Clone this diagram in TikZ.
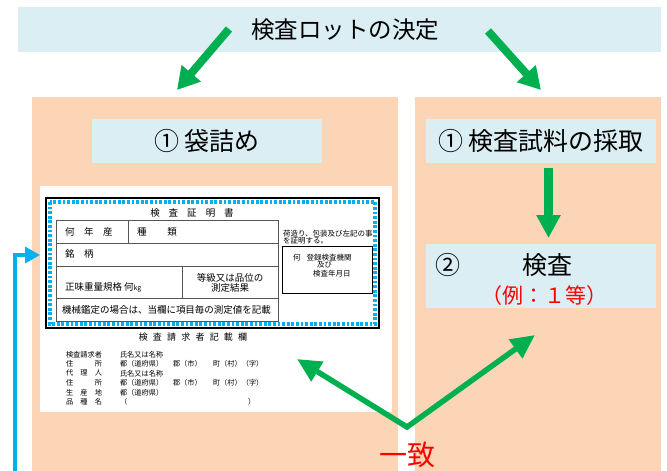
\documentclass[tikz,border=0pt]{standalone}
\usepackage{fontspec}
\setmainfont{Noto Sans CJK JP}
\usetikzlibrary{arrows.meta,calc}
\definecolor{lblue}{HTML}{DAEEF3}
\definecolor{porange}{HTML}{FBD5B5}
\definecolor{agreen}{HTML}{00B050}
\definecolor{cblue}{HTML}{00B0F0}
\definecolor{ared}{HTML}{FF0000}
\definecolor{tgray}{HTML}{555555}
\newcommand\fs[1]{\fontsize{#1}{#1}\selectfont}
\begin{document}
\begin{tikzpicture}[x=1pt,y=-1pt,
  rect/.style={inner sep=0pt, outer sep=0pt, anchor=north west},
  lbox/.style={rect, fill=lblue},
  panel/.style={rect, fill=porange},
  txt/.style={inner sep=0pt, outer sep=0pt},
  bigtxt/.style={txt, font=\fs{25}},
  smalltxt/.style={txt, font=\fs{9.5}},
  tinytxt/.style={txt, font=\fs{7.5}},
  listtxt/.style={txt, font=\fs{7.2}, anchor=west},
  tline/.style={draw=tgray, line width=0.9pt},
  toparrow/.style={draw=agreen, line width=8pt, -{Triangle[width=24pt,length=22pt]}},
  downarrow/.style={draw=agreen, line width=9pt, -{Triangle[width=23pt,length=23pt]}},
  botarrow/.style={draw=agreen, line width=5.5pt, line join=miter,
     {Triangle[width=22pt,length=24pt]}-{Triangle[width=22pt,length=24pt]}},
  bluearrow/.style={draw=cblue, line width=3.3pt, line join=miter, -{Triangle[width=16pt,length=15pt]}}
]
\useasboundingbox (0,0) rectangle (667,471);
\fill[white] (0,0) rectangle (667,471);

% banner
\node[lbox, minimum width=643pt, minimum height=45pt] (banner) at (18,7) {};
\node[txt, font=\fs{23.5}] (title) at (345,30) {検査ロットの決定};

% panels
\node[panel, minimum width=366pt, minimum height=374pt] (lpanel) at (32,97) {};
\node[panel, minimum width=246pt, minimum height=374pt] (rpanel) at (415,97) {};

% step boxes
\node[lbox, minimum width=230pt, minimum height=44pt, font=\fs{25}] (bag) at (92,119) {① 袋詰め};
\node[lbox, minimum width=230pt, minimum height=44pt, font=\fs{25}] (s1) at (426,119) {① 検査試料の採取};
\node[lbox, minimum width=230pt, minimum height=64pt] (s2) at (426,244) {};
\node[bigtxt] (s2num) at (448,265) {②};
\node[bigtxt] (s2txt) at (547,265) {検査};
\node[txt, font=\fs{21}, text=ared] (s2ex) at (544,296) {（例：１等）};

% document
\node[rect, fill=white, minimum width=352pt, minimum height=226pt] (doc) at (40,186) {};
\node[rect, draw=black, line width=1.5pt, minimum width=333pt, minimum height=130pt] (cert) at (46,198) {};
\draw[cblue, line width=3.2pt, dash pattern=on 2.8pt off 1.8pt] (50,202) rectangle (375,324);

% table
\draw[tline] (56,220.7) rectangle (278,321.7);
\draw[tline] (56,243.3) -- (278,243.3);
\draw[tline] (56,266) -- (278,266);
\draw[tline] (56,298.3) -- (278,298.3);
\draw[tline] (128,220.7) -- (128,243.3);
\draw[tline] (182,266) -- (182,298.3);
\node[rect, draw=black, line width=1.3pt, minimum width=89.6pt, minimum height=46.6pt] (stamp) at (282.7,246.7) {};

\node[txt, font=\fs{9.5}] (ctitle) at (192,213.3) {検\hspace{9pt}査\hspace{9pt}証\hspace{9pt}明\hspace{9pt}書};
\node[smalltxt, anchor=west] (c1) at (65,231.7) {何　年　産};
\node[smalltxt, anchor=west] (c2) at (137,231.7) {種\hspace{21pt}類};
\node[smalltxt, anchor=west] (c3) at (65,254) {銘　柄};
\node[smalltxt, anchor=west] (c4) at (65,287.3) {正味重量規格 何{\fs{7}kg}};
\node[smalltxt] (c5a) at (230,278.3) {等級又は品位の};
\node[smalltxt] (c5b) at (230,288.3) {測定結果};
\node[smalltxt, anchor=west] (c6) at (62,310) {機械鑑定の場合は、当欄に項目毎の測定値を記載};
\node[tinytxt, anchor=west] (r1) at (283,233.3) {荷造り、包装及び左記の事};
\node[tinytxt, anchor=west] (r2) at (283,240.5) {を証明する。};
\node[tinytxt, anchor=west] (b1) at (293,257.3) {何\hspace{6pt}登録検査機関};
\node[tinytxt, anchor=west] (b2) at (317,265) {及び};
\node[tinytxt, anchor=west] (b3) at (313,273.3) {検査年月日};

% request section
\node[txt, font=\fs{9}] (rtitle) at (193,337) {検\hspace{5.2pt}査\hspace{5.2pt}請\hspace{5.2pt}求\hspace{5.2pt}者\hspace{5.2pt}記\hspace{5.2pt}載\hspace{5.2pt}欄};
\node[listtxt] (l1) at (66,355) {検査請求者};
\node[listtxt] (l2) at (66,364) {住　　　所};
\node[listtxt] (l3) at (66,373.3) {代　理　人};
\node[listtxt] (l4) at (66,382.7) {住　　　所};
\node[listtxt] (l5) at (66,392.3) {生　産　地};
\node[listtxt] (l6) at (66,401.7) {品　種　名};
\node[listtxt] (m1) at (120,355) {氏名又は名称};
\node[listtxt] (m2) at (120,364) {都（道府県）};
\node[listtxt] (m2b) at (173,364) {郡（市）};
\node[listtxt] (m2c) at (213,364) {町（村）（字）};
\node[listtxt] (m3) at (120,373.3) {氏名又は名称};
\node[listtxt] (m4) at (120,382.7) {都（道府県）};
\node[listtxt] (m4b) at (173,382.7) {郡（市）};
\node[listtxt] (m4c) at (213,382.7) {町（村）（字）};
\node[listtxt] (m5) at (120,392.3) {都（道府県）};
\node[listtxt] (m6) at (120,401.7) {（};
\node[listtxt] (m6b) at (248,401.7) {）};

% agreement label
\node[txt, font=\fs{28}, text=ared] (agree) at (407,455) {一致};

% connectors
\coordinate (ta1) at (229,29);
\coordinate (tt1) at (177,90);
\coordinate (ta2) at (488,31);
\coordinate (tt2) at (541,90);
\draw[toparrow] (ta1) -- (tt1);
\draw[toparrow] (ta2) -- (tt2);
\draw[downarrow] ($(s1.south)+(7.5,5)$) -- ($(s2.north)+(7.5,-6)$);
\coordinate (vtx) at (407,427);
\coordinate (tl) at (297,359);
\coordinate (tr) at (535,335);
\draw[botarrow] (tl) -- (vtx) -- (tr);
\coordinate (bl) at (15,472);
\coordinate (bj) at (40,255);
\draw[bluearrow] (bl) |- (bj);
\end{tikzpicture}
\end{document}
